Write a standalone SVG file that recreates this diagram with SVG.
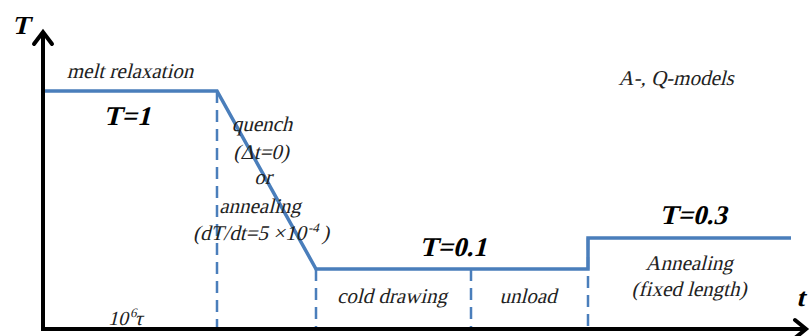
<svg xmlns="http://www.w3.org/2000/svg" width="810" height="336" viewBox="0 0 810 336">
<style>
.ax{stroke:#000;stroke-width:4;fill:none}
.ah{stroke:#000;stroke-width:4;fill:none;stroke-linecap:round;stroke-linejoin:miter}
.bl{stroke:#4a7ebb;stroke-width:3.5;fill:none}
.ds{stroke:#4a7ebb;stroke-width:2.5;fill:none;stroke-dasharray:12 7}
</style>
<rect width="810" height="336" fill="#fff"/>
<g id="connectors">
<path class="ds" d="M217 91V329"/>
<path class="ds" d="M316 269V329"/>
<path class="ds" d="M471 269V329"/>
<path class="ds" d="M588 238V329"/>
<path class="bl" d="M43 91H217L316 269H588V238H791"/>
<path class="ax" d="M43 32V329H806"/>
<path class="ah" d="M34 44L43 32L52 44"/>
<path class="ah" d="M795 320L806 329L795 338"/>
</g>
<g id="axis-labels">
<g transform="translate(12 34) skewX(-14)"><text x="0" y="0" font-family="Times New Roman, serif" font-style="normal" font-weight="bold" font-size="26" fill="#000">T</text></g>
<g transform="translate(796 306) skewX(-14)"><text x="0" y="0" font-family="Times New Roman, serif" font-style="normal" font-weight="bold" font-size="26" fill="#000">t</text></g>
</g>
<g id="tau">
<g transform="translate(108 325) skewX(-14)"><text x="0" y="0" font-family="Times New Roman, serif" font-style="normal" font-size="20" fill="#222">10<tspan font-size="13" dy="-8">6</tspan><tspan dy="8">τ</tspan></text></g>
</g>
<g id="melt">
<g transform="translate(130 78) skewX(-14)"><text x="0" y="0" font-family="Times New Roman, serif" font-style="normal" font-size="21" fill="#222" text-anchor="middle">melt relaxation</text></g>
<g transform="translate(127 125) skewX(-14)"><text x="0" y="0" font-family="Times New Roman, serif" font-style="normal" text-anchor="middle" font-weight="bold" font-size="27" fill="#000">T=1</text></g>
</g>
<g id="quench">
<g transform="translate(262 131) skewX(-14)"><text x="0" y="0" font-family="Times New Roman, serif" font-style="normal" font-size="21" fill="#222" text-anchor="middle">quench</text></g>
<g transform="translate(261 159) skewX(-14)"><text x="0" y="0" font-family="Times New Roman, serif" font-style="normal" font-size="21" fill="#222" text-anchor="middle">(Δt=0)</text></g>
<g transform="translate(263 184) skewX(-14)"><text x="0" y="0" font-family="Times New Roman, serif" font-style="normal" font-size="21" fill="#222" text-anchor="middle">or</text></g>
<g transform="translate(260 213) skewX(-14)"><text x="0" y="0" font-family="Times New Roman, serif" font-style="normal" font-size="21" fill="#222" text-anchor="middle">annealing</text></g>
<g transform="translate(261 240) skewX(-14)"><text x="0" y="0" font-family="Times New Roman, serif" font-style="normal" font-size="21" fill="#222" text-anchor="middle">(dT/dt=5 ×10<tspan font-size="13" dy="-8">-4</tspan><tspan dy="8"> )</tspan></text></g>
</g>
<g id="cold">
<g transform="translate(453 256) skewX(-14)"><text x="0" y="0" font-family="Times New Roman, serif" font-style="normal" text-anchor="middle" font-weight="bold" font-size="27" fill="#000">T=0.1</text></g>
<g transform="translate(392 303) skewX(-14)"><text x="0" y="0" font-family="Times New Roman, serif" font-style="normal" font-size="21" fill="#222" text-anchor="middle">cold drawing</text></g>
<g transform="translate(528 303) skewX(-14)"><text x="0" y="0" font-family="Times New Roman, serif" font-style="normal" font-size="21" fill="#222" text-anchor="middle">unload</text></g>
</g>
<g id="anneal">
<g transform="translate(693 224) skewX(-14)"><text x="0" y="0" font-family="Times New Roman, serif" font-style="normal" text-anchor="middle" font-weight="bold" font-size="27" fill="#000">T=0.3</text></g>
<g transform="translate(689 270) skewX(-14)"><text x="0" y="0" font-family="Times New Roman, serif" font-style="normal" font-size="21" fill="#222" text-anchor="middle">Annealing</text></g>
<g transform="translate(689 296) skewX(-14)"><text x="0" y="0" font-family="Times New Roman, serif" font-style="normal" font-size="21" fill="#222" text-anchor="middle">(fixed length)</text></g>
</g>
<g id="models">
<g transform="translate(676 85) skewX(-14)"><text x="0" y="0" font-family="Times New Roman, serif" font-style="normal" font-size="21" fill="#222" text-anchor="middle">A-, Q-models</text></g>
</g>
</svg>
